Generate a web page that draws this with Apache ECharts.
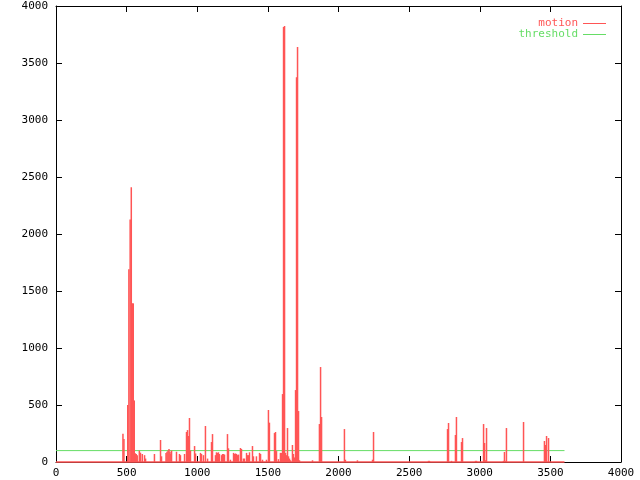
<!DOCTYPE html>
<html>
<head>
<meta charset="utf-8">
<script src="https://cdn.jsdelivr.net/npm/echarts@6/dist/echarts.min.js"></script>
<style>html,body{margin:0;padding:0;background:#fff}#c{width:640px;height:480px}</style>
</head>
<body>
<div id="c"></div>
<script>
// frame numbers of non-zero motion samples and their values
var motionFrames = [474,481,508,516,525,533,540,547,554,561,568,575,590,598,611,627,634,697,740,747,
  779,786,793,800,807,814,818,853,874,881,910,924,931,938,945,952,981,988,1023,1030,1044,1058,1073,
  1101,1108,1129,1136,1143,1150,1157,1172,1179,1186,1193,1214,1221,1235,1257,1264,1271,1278,1285,1292,
  1306,1313,1327,1334,1349,1356,1363,1370,1391,1398,1419,1441,1448,1462,1490,1504,1511,1547,1554,1561,
  1575,1589,1596,1604,1611,1618,1625,1632,1639,1646,1653,1660,1674,1681,1688,1696,1703,1710,1717,1724,
  1816,1865,1873,1880,2042,2049,2134,2241,2248,2637,2644,2772,2779,2800,2828,2835,2871,2878,2970,2977,
  3027,3034,3041,3048,3168,3175,3182,3189,3310,3458,3465,3473,3487];
var motionValues = [248,202,500,1690,2128,2409,1392,1392,540,76,70,60,100,82,70,60,30,70,193,50,
  80,90,100,114,90,70,100,90,70,60,70,263,280,228,386,100,140,75,80,70,60,316,30,
  175,245,60,85,80,85,70,60,70,70,65,245,120,20,80,70,75,70,60,65,
  123,114,30,30,80,60,60,85,140,50,50,80,70,20,20,456,345,254,263,96,
  25,80,80,596,3815,3824,80,60,298,50,30,15,149,70,40,631,3376,3640,447,15,
  15,333,833,395,289,20,15,20,263,10,10,289,342,10,237,395,175,210,10,10,
  333,167,15,298,10,88,10,298,351,184,149,228,210];
var frameRange = [0, 3600];
var thresholdValue = 100;
var xTicks = {min: 0, max: 4000, interval: 500};
var yTicks = {min: 0, max: 4000, interval: 500};

var red = '#ff5555', green = '#66dd66';
var font = 'DejaVu Sans Mono';

var motionData = motionFrames.map(function (f, i) { return [f, motionValues[i]]; });
var baseData = frameRange.map(function (f) { return [f, 0]; });
var thrData = frameRange.map(function (f) { return [f, thresholdValue]; });

function plain(v) { return String(v); }
function mkX(pos, labels) {
  return {type: 'value', position: pos, min: xTicks.min, max: xTicks.max, interval: xTicks.interval,
    axisLine: {show: true, onZero: false, lineStyle: {color: '#000', width: 1}},
    axisTick: {show: true, inside: true, length: 6, lineStyle: {color: '#000'}},
    axisLabel: {show: labels, margin: 6, color: '#000', fontFamily: font, fontSize: 11, formatter: plain},
    splitLine: {show: false}, z: 0};
}
function mkY(pos, labels) {
  return {type: 'value', position: pos, min: yTicks.min, max: yTicks.max, interval: yTicks.interval,
    axisLine: {show: true, onZero: false, lineStyle: {color: '#000', width: 1}},
    axisTick: {show: true, inside: true, length: 6, lineStyle: {color: '#000'}},
    axisLabel: {show: labels, margin: 8, color: '#000', fontFamily: font, fontSize: 11, formatter: plain},
    splitLine: {show: false}, z: 0};
}

var chart = echarts.init(document.getElementById('c'), null, {renderer: 'canvas'});
chart.setOption({
  animation: false,
  backgroundColor: '#fff',
  grid: {left: 56, right: 19, top: 6, bottom: 18, containLabel: false},
  xAxis: [mkX('bottom', true), mkX('top', false)],
  yAxis: [mkY('left', true), mkY('right', false)],
  legend: {
    orient: 'vertical', right: 29, top: 13, align: 'right',
    itemWidth: 23, itemHeight: 1, itemGap: 0, icon: 'rect',
    textStyle: {fontFamily: font, fontSize: 11, lineHeight: 11},
    data: [
      {name: 'motion', textStyle: {color: red}, itemStyle: {color: red}},
      {name: 'threshold', textStyle: {color: green}, itemStyle: {color: green}}
    ]
  },
  series: [
    {name: 'motion', type: 'line', data: baseData, showSymbol: false, symbol: 'none', clip: false,
      lineStyle: {color: red, width: 1.5}, itemStyle: {color: red}, z: 10},
    {name: 'threshold', type: 'line', data: thrData, showSymbol: false, symbol: 'none',
      lineStyle: {color: green, width: 1}, itemStyle: {color: green}, z: 2},
    {name: 'motion', type: 'bar', data: motionData, barWidth: 1.5, barGap: '-100%',
      itemStyle: {color: red}, z: 4}
  ]
});
</script>
</body>
</html>
